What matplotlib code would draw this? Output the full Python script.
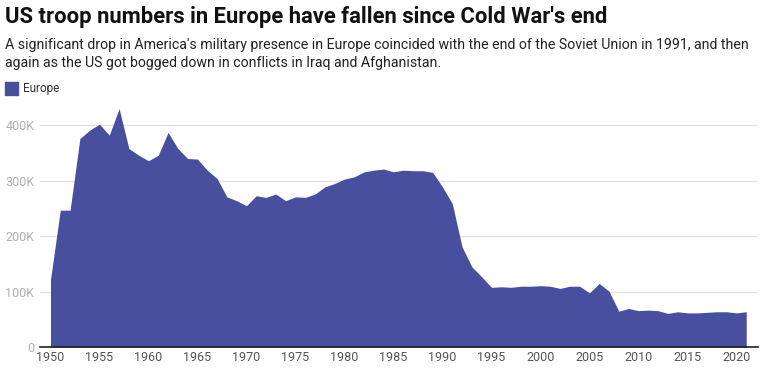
import matplotlib.pyplot as plt
from matplotlib.patches import Rectangle

years = list(range(1950, 2022))
troops = [
    122000, 247000, 247000, 376000, 391000, 402000, 382000, 430000, 358000, 346000,
    336000, 346000, 387000, 358000, 340000, 339000, 319000, 304000, 271000, 264000,
    255000, 273000, 270000, 276000, 264000, 271000, 270000, 276000, 289000, 295000,
    303000, 307000, 316000, 319000, 321000, 316000, 319000, 318000, 318000, 315000,
    289000, 259000, 181000, 145000, 127000, 108000, 109000, 108000, 110000, 110000,
    111000, 110000, 106000, 110000, 110000, 98000, 115000, 101000, 65000, 70000,
    66000, 67000, 66000, 61000, 64000, 62000, 62000, 63000, 64000, 64000,
    62000, 64000,
]
yticks = [0, 100000, 200000, 300000, 400000]
ytick_labels = ['0', '100K', '200K', '300K', '400K']
xticks = list(range(1950, 2021, 5))

fill_color = '#484f9e'

fig = plt.figure(figsize=(7.69, 3.78), dpi=100)
plt.rcParams['font.family'] = ['Roboto', 'DejaVu Sans']

ax = fig.add_axes([40 / 769, 1 - 347.3 / 378, 718 / 769, 244.3 / 378])
ax.fill_between(years, troops, 0, color=fill_color, linewidth=0)
ax.set_xlim(1948.93, 2022.2)
ax.set_ylim(0, 440000)

ax.set_yticks(yticks)
ax.set_yticklabels(ytick_labels)
ax.set_xticks(xticks)
ax.set_xticklabels([str(x) for x in xticks])
ax.tick_params(axis='y', length=0, labelsize=9, labelcolor='#b0b0b0', pad=4)
ax.tick_params(axis='x', length=0, labelsize=9, labelcolor='#555555', pad=3)
ax.grid(axis='y', color='#e3e3e3', linewidth=1)
ax.set_axisbelow(True)
for s in ['top', 'right', 'left']:
    ax.spines[s].set_visible(False)
ax.spines['bottom'].set_color('#222222')
ax.spines['bottom'].set_linewidth(1.2)
ax.spines['bottom'].set_zorder(5)

fig.text(5 / 769, 1 - 17 / 378, "US troop numbers in Europe have fallen since Cold War's end",
         fontsize=15.8, fontweight='bold', color='#111111', va='center', ha='left')
fig.text(5 / 769, 1 - 45 / 378,
         "A significant drop in America's military presence in Europe coincided with the end of the Soviet Union in 1991, and then",
         fontsize=10.2, color='#222222', va='center', ha='left')
fig.text(5 / 769, 1 - 63 / 378,
         "again as the US got bogged down in conflicts in Iraq and Afghanistan.",
         fontsize=10.2, color='#222222', va='center', ha='left')

fig.patches.append(Rectangle((5 / 769, 1 - 95 / 378), 13 / 769, 13 / 378,
                             transform=fig.transFigure, color=fill_color))
fig.text(23 / 769, 1 - 88.5 / 378, 'Europe', fontsize=8.5, color='#333333',
         va='center', ha='left')

fig.savefig('out.png', dpi=100)
